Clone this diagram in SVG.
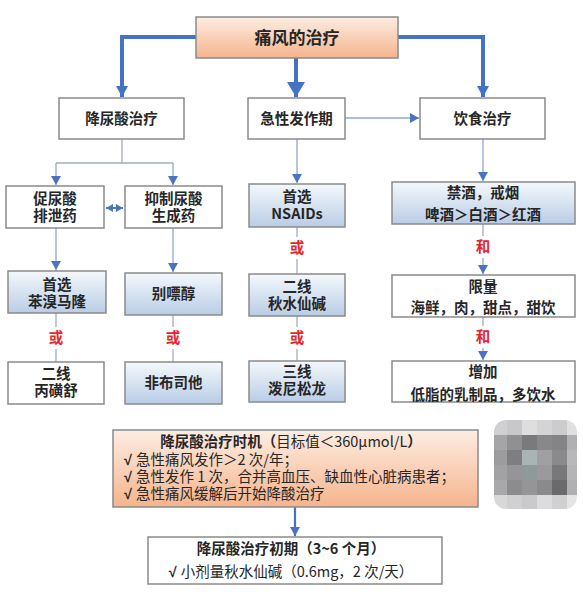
<svg xmlns="http://www.w3.org/2000/svg" width="583" height="596" viewBox="0 0 583 596">
<style>
text{font-family:"Noto Sans CJK SC","Noto Sans",sans-serif;fill:#262626;}
.t{font-size:14.5px;font-weight:bold;text-anchor:middle;}
.big{font-size:17px;font-weight:bold;text-anchor:middle;}
.red{font-size:14.5px;font-weight:bold;text-anchor:middle;fill:#E8262A;}
.n{font-size:14.5px;}
.ck{font-family:"Liberation Sans",sans-serif;font-weight:bold;}
.box{stroke:#8A8A8A;stroke-width:1.5;}
.w{fill:#FFFFFF;}
.b{fill:url(#gb);}
.o{fill:url(#go);}
.thick{fill:none;stroke:#4472C4;stroke-width:4;}
.thin{fill:none;stroke:#A3ADC0;stroke-width:1.3;}
.thinb{fill:none;stroke:#8FA6D0;stroke-width:1.3;}
</style>
<defs>
<linearGradient id="gb" x1="0" y1="0" x2="0" y2="1">
<stop offset="0" stop-color="#F4F8FC"/>
<stop offset="1" stop-color="#B9CDE6"/>
</linearGradient>
<linearGradient id="go" x1="0" y1="0" x2="0" y2="1">
<stop offset="0" stop-color="#FDEDE3"/>
<stop offset="1" stop-color="#F5B48C"/>
</linearGradient>
<marker id="ah" markerUnits="userSpaceOnUse" markerWidth="12" markerHeight="12" viewBox="0 0 12 12" refX="11" refY="6" orient="auto">
<path d="M0,0 L11,6 L0,12 Z" fill="#4472C4"/>
</marker>
<marker id="ahb" markerUnits="userSpaceOnUse" markerWidth="16" markerHeight="18" viewBox="0 0 16 18" refX="15" refY="9" orient="auto">
<path d="M0,0 L15,9 L0,18 Z" fill="#4472C4"/>
</marker>
<marker id="as" markerUnits="userSpaceOnUse" markerWidth="9" markerHeight="10" viewBox="0 0 9 10" refX="9" refY="5" orient="auto">
<path d="M0,0 L9,5 L0,10 Z" fill="#4A74C0"/>
</marker>
<marker id="dm" markerUnits="userSpaceOnUse" markerWidth="7" markerHeight="8" viewBox="0 0 7 8" refX="7" refY="4" orient="auto-start-reverse">
<path d="M0,0 L7,4 L0,8 Z" fill="#4A74C0"/>
</marker>
<clipPath id="mc"><rect x="494" y="420" width="83" height="89" rx="12"/></clipPath>
</defs>

<g id="connectors">
<path class="thick" d="M196 37 H122 V97" marker-end="url(#ah)"/>
<path class="thick" d="M296 58 V97" stroke-width="5.5" marker-end="url(#ahb)"/>
<path class="thick" d="M398 37 H483 V97" marker-end="url(#ah)"/>
<path class="thinb" d="M345 118 H419" marker-end="url(#as)"/>
<path class="thin" d="M122 139 V163 M56 163 H173"/>
<path class="thinb" d="M56 163 V185" marker-end="url(#as)"/>
<path class="thinb" d="M173 163 V185" marker-end="url(#as)"/>
<path d="M106 208 H123" fill="none" stroke="#4A74C0" stroke-width="2" marker-start="url(#dm)" marker-end="url(#dm)"/>
<path class="thinb" d="M56 228 V270" marker-end="url(#as)"/>
<path class="thinb" d="M173 228 V272" marker-end="url(#as)"/>
<path class="thin" d="M56 313 V327 M56 349 V362"/>
<path class="thin" d="M173 315 V327 M173 349 V362"/>
<path class="thinb" d="M297 139 V183" marker-end="url(#as)"/>
<path class="thin" d="M297 227 V237 M297 259 V274 M297 316 V327 M297 349 V361"/>
<path class="thinb" d="M483 139 V181" marker-end="url(#as)"/>
<path class="thin" d="M483 224 V236 M483 317 V326"/>
<path class="thinb" d="M483 258 V274" marker-end="url(#as)"/>
<path class="thinb" d="M483 348 V360" marker-end="url(#as)"/>
<path d="M295 507 V536" fill="none" stroke="#4472C4" stroke-width="2.2" marker-end="url(#as)"/>
</g>

<g id="top"><rect class="box o" x="196" y="17" width="202" height="41"/><text class="big" x="297" y="44">痛风的治疗</text></g>

<g id="n-urate"><rect class="box w" x="59" y="98" width="125" height="41"/><text class="t" x="121.5" y="124">降尿酸治疗</text></g>
<g id="n-acute"><rect class="box w" x="248" y="98" width="97" height="41"/><text class="t" x="296.5" y="124">急性发作期</text></g>
<g id="n-diet"><rect class="box w" x="420" y="98" width="125" height="41"/><text class="t" x="482.5" y="124">饮食治疗</text></g>

<g id="n-excr"><rect class="box w" x="6" y="186" width="98" height="42"/><text class="t" x="55" y="204">促尿酸</text><text class="t" x="55" y="221">排泄药</text></g>
<g id="n-inhib"><rect class="box w" x="125" y="186" width="97" height="42"/><text class="t" x="173.5" y="204">抑制尿酸</text><text class="t" x="173.5" y="221">生成药</text></g>

<g id="n-benz"><rect class="box b" x="8" y="271" width="98" height="42"/><text class="t" x="57" y="290">首选</text><text class="t" x="57" y="307">苯溴马隆</text></g>
<g id="n-allo"><rect class="box b" x="125" y="273" width="97" height="42"/><text class="t" x="173.5" y="299">别嘌醇</text></g>
<text class="red" x="56" y="343">或</text>
<text class="red" x="173" y="343">或</text>
<g id="n-prob"><rect class="box w" x="8" y="362" width="96" height="42"/><text class="t" x="56" y="379">二线</text><text class="t" x="56" y="396">丙磺舒</text></g>
<g id="n-febu"><rect class="box b" x="125" y="362" width="97" height="42"/><text class="t" x="173.5" y="388">非布司他</text></g>

<g id="n-nsaid"><rect class="box b" x="249" y="184" width="96" height="43"/><text class="t" x="297" y="202">首选</text><text class="t" x="297" y="219">NSAIDs</text></g>
<text class="red" x="297" y="253">或</text>
<g id="n-colch"><rect class="box b" x="249" y="274" width="96" height="42"/><text class="t" x="297" y="292">二线</text><text class="t" x="297" y="309">秋水仙碱</text></g>
<text class="red" x="297" y="343">或</text>
<g id="n-pred"><rect class="box b" x="249" y="361" width="96" height="41"/><text class="t" x="297" y="377">三线</text><text class="t" x="297" y="394">泼尼松龙</text></g>

<g id="n-alcohol"><rect class="box b" x="392" y="182" width="183" height="42"/><text class="t" x="483" y="198">禁酒，戒烟</text><text class="t" x="483" y="220">啤酒＞白酒＞红酒</text></g>
<text class="red" x="483" y="252">和</text>
<g id="n-limit"><rect class="box w" x="392" y="275" width="183" height="42"/><text class="t" x="483" y="292">限量</text><text class="t" x="483" y="313">海鲜，肉，甜点，甜饮</text></g>
<text class="red" x="483" y="342">和</text>
<g id="n-add"><rect class="box w" x="392" y="361" width="183" height="41"/><text class="t" x="483" y="377">增加</text><text class="t" x="483" y="400">低脂的乳制品，多饮水</text></g>

<g id="n-timing"><rect class="box o" x="113" y="430" width="365" height="77"/>
<text class="n" x="291" y="447" text-anchor="middle"><tspan font-weight="bold">降尿酸治疗时机（</tspan>目标值＜360μmol/L<tspan font-weight="bold">）</tspan></text>
<text class="n" x="124" y="465"><tspan class="ck">√ </tspan>急性痛风发作＞2 次/年；</text>
<text class="n" x="124" y="482"><tspan class="ck">√ </tspan>急性发作 1 次，合并高血压、缺血性心脏病患者；</text>
<text class="n" x="124" y="499"><tspan class="ck">√ </tspan>急性痛风缓解后开始降酸治疗</text>
</g>

<g id="n-initial"><rect class="box w" x="148" y="537" width="294" height="47"/>
<text class="t" x="291" y="554">降尿酸治疗初期（3~6 个月）</text>
<text class="n" x="291" y="577" text-anchor="middle"><tspan class="ck">√ </tspan>小剂量秋水仙碱（0.6mg，2 次/天）</text>
</g>

<g id="mosaic" clip-path="url(#mc)">
<rect x="492" y="420" width="15" height="15" fill="#D0D0D2"/><rect x="507" y="420" width="15" height="15" fill="#C8C8CA"/><rect x="522" y="420" width="15" height="15" fill="#DEDEDE"/><rect x="537" y="420" width="15" height="15" fill="#D4D4D6"/><rect x="552" y="420" width="15" height="15" fill="#CCCCCE"/><rect x="567" y="420" width="15" height="15" fill="#E0E0E0"/>
<rect x="492" y="435" width="15" height="15" fill="#A5A5A7"/><rect x="507" y="435" width="15" height="15" fill="#909092"/><rect x="522" y="435" width="15" height="15" fill="#7A7A7C"/><rect x="537" y="435" width="15" height="15" fill="#88888A"/><rect x="552" y="435" width="15" height="15" fill="#848486"/><rect x="567" y="435" width="15" height="15" fill="#B0B0B2"/>
<rect x="492" y="450" width="15" height="15" fill="#9C9C9E"/><rect x="507" y="450" width="15" height="15" fill="#7E7E80"/><rect x="522" y="450" width="15" height="15" fill="#A9B4B4"/><rect x="537" y="450" width="15" height="15" fill="#A0A0A2"/><rect x="552" y="450" width="15" height="15" fill="#8A8A8C"/><rect x="567" y="450" width="15" height="15" fill="#B8B8BA"/>
<rect x="492" y="465" width="15" height="15" fill="#A2A2A4"/><rect x="507" y="465" width="15" height="15" fill="#959597"/><rect x="522" y="465" width="15" height="15" fill="#8E9999"/><rect x="537" y="465" width="15" height="15" fill="#9A9A9C"/><rect x="552" y="465" width="15" height="15" fill="#78787A"/><rect x="567" y="465" width="15" height="15" fill="#B4B4B6"/>
<rect x="492" y="480" width="15" height="15" fill="#A8A8AA"/><rect x="507" y="480" width="15" height="15" fill="#8C8C8E"/><rect x="522" y="480" width="15" height="15" fill="#959597"/><rect x="537" y="480" width="15" height="15" fill="#8A8A8C"/><rect x="552" y="480" width="15" height="15" fill="#6A6A6C"/><rect x="567" y="480" width="15" height="15" fill="#B0B0B2"/>
<rect x="492" y="495" width="15" height="15" fill="#D8D8D8"/><rect x="507" y="495" width="15" height="15" fill="#D0D0D2"/><rect x="522" y="495" width="15" height="15" fill="#CACACC"/><rect x="537" y="495" width="15" height="15" fill="#DCDCDC"/><rect x="552" y="495" width="15" height="15" fill="#D0D0D2"/><rect x="567" y="495" width="15" height="15" fill="#E4E4E4"/>
</g>
</svg>
